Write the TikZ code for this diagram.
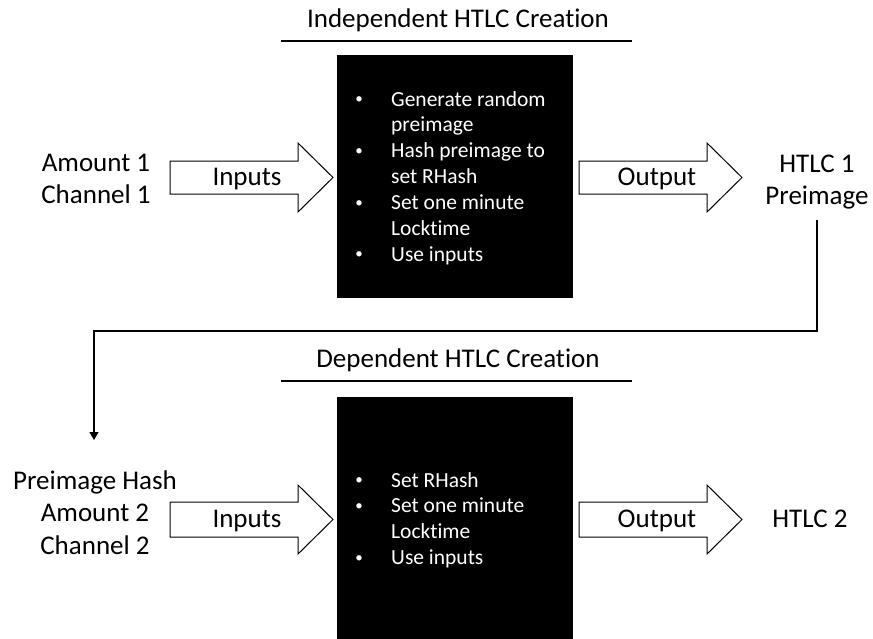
\documentclass[tikz,border=0pt]{standalone}
\usepackage{fontspec}
\setmainfont{Carlito}[Ligatures=NoCommon]
\usetikzlibrary{arrows.meta}
% bullet cell used in the step lists
\newcommand\stepitem{\makebox[37.4pt][l]{\hspace*{1.5pt}{\fontsize{15}{15}\selectfont\raisebox{2.5pt}{\textbullet}}}}
\begin{document}
\begin{tikzpicture}[x=1pt,y=-1pt,
  lbl/.style={inner sep=0pt, font=\fontsize{27}{32.5}\selectfont},
  steps/.style={inner sep=0pt, text=white, anchor=base west,
    font=\fontsize{21.5}{25.9}\selectfont},
  blk/.style={fill=black, minimum width=236pt, minimum height=243pt, inner sep=0pt},
  fat/.style={draw=black, line width=1pt, fill=white, line join=miter},
  rule/.style={line width=1.8pt},
  conn/.style={line width=1.1pt, -{Triangle[length=8pt,width=9pt]}},
]
\path[fill=white, use as bounding box] (0,0) rectangle (873,638);

% ---- stage 1: independent HTLC ----
\node[lbl, anchor=base] (t1) at (458,27) {Independent HTLC Creation};
\draw[rule] (281,41) -- (632,41);

\node[blk] (box1) at (455,176.5) {};
\node[steps] (steps1) at (353.6,106) {\begin{tabular}[t]{@{}l@{}l@{}}
  \stepitem & Generate random\\ & preimage\\
  \stepitem & Hash preimage to\\ & set RHash\\
  \stepitem & Set one minute\\ & Locktime\\
  \stepitem & Use inputs\end{tabular}};

\node[lbl, anchor=base] (in1) at (96,171)
  {\begin{tabular}[t]{@{}c@{}}Amount 1\\Channel 1\end{tabular}};

\draw[fat] (170,161) -- (298,161) -- (298,143) -- (333,177.5) -- (298,212)
  -- (298,194) -- (170,194) -- cycle;
\node[lbl, anchor=base] (inp1) at (247,185) {Inputs};

\draw[fat] (579,161) -- (707,161) -- (707,143) -- (742,177.5) -- (707,212)
  -- (707,194) -- (579,194) -- cycle;
\node[lbl, anchor=base] (outp1) at (657,185) {Output};

\node[lbl, anchor=base] (out1) at (817,172)
  {\begin{tabular}[t]{@{}c@{}}HTLC 1\\Preimage\end{tabular}};

% ---- preimage hash handed down to stage 2 ----
\coordinate (turn) at (94,331);
\coordinate (drop) at (94,440);
\draw[conn] ([yshift=-5.75pt]out1.south) |- (turn) -- (drop);

% ---- stage 2: dependent HTLC ----
\node[lbl, anchor=base] (t2) at (458,367) {Dependent HTLC Creation};
\draw[rule] (281,381) -- (632,381);

\node[blk] (box2) at (455,518.5) {};
\node[steps] (steps2) at (353.6,487) {\begin{tabular}[t]{@{}l@{}l@{}}
  \stepitem & Set RHash\\
  \stepitem & Set one minute\\ & Locktime\\
  \stepitem & Use inputs\end{tabular}};

\node[lbl, anchor=base] (in2) at (95,489)
  {\begin{tabular}[t]{@{}c@{}}Preimage Hash\\Amount 2\\Channel 2\end{tabular}};

\draw[fat] (170,502) -- (298,502) -- (298,485) -- (333,519.5) -- (298,554)
  -- (298,537) -- (170,537) -- cycle;
\node[lbl, anchor=base] (inp2) at (247,527) {Inputs};

\draw[fat] (579,502) -- (707,502) -- (707,485) -- (742,519.5) -- (707,554)
  -- (707,537) -- (579,537) -- cycle;
\node[lbl, anchor=base] (outp2) at (657,527) {Output};

\node[lbl, anchor=base] (out2) at (810,527) {HTLC 2};
\end{tikzpicture}
\end{document}
